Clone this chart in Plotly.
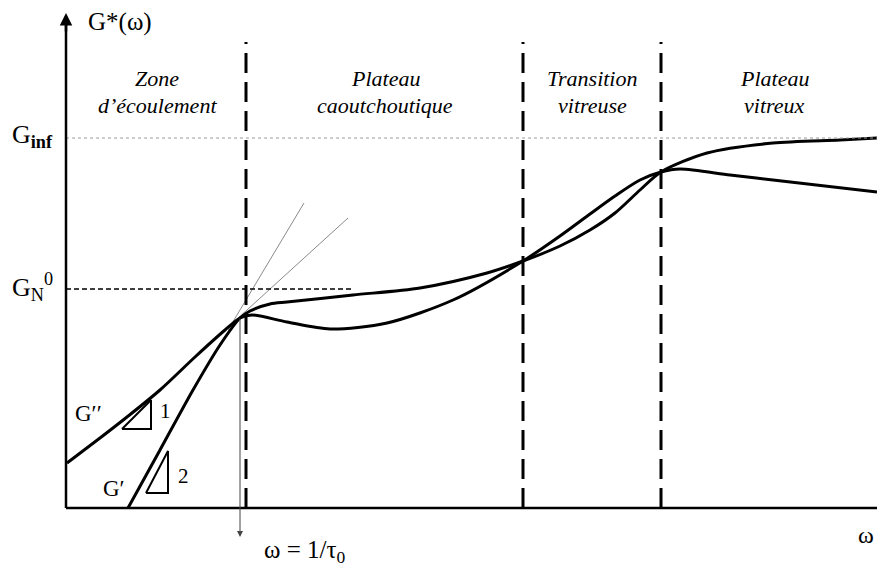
import plotly.graph_objects as go

# ---- data (schematic units: origin at axes corner, x = log(omega), y = log(G)) ----
gp_x = [62, 94, 127, 154, 174, 184, 204, 221, 287, 354, 421, 457, 494, 524, 549, 574, 595, 641, 707, 774, 811]
gp_y = [0, 58, 118, 163, 190, 197, 204, 206, 213, 220, 235, 247, 262, 278, 295, 318, 336, 355, 365, 368, 370]

gpp_x = [1, 34, 61, 94, 129, 159, 174, 186, 221, 264, 321, 387, 457, 494, 524, 549, 574, 595, 614, 664, 707, 811]
gpp_y = [45, 70, 91, 118, 151, 178, 190, 193, 186, 179, 185, 208, 247, 272, 294, 312, 328, 336, 339, 333, 328, 316]

zone_bounds = [180, 457, 595]
zone_top = 466
x_end = 811
y_top = 495
g_inf = 370
g_n0 = 219
g_n0_end = 287
tau0_x = 174
tau0_y = 191

tan1_x = [162, 238]
tan1_y = [178, 305]
tan2_x = [159, 282]
tan2_y = [178, 290]

tri1_x = [56, 85, 85, 56]
tri1_y = [79, 79, 108, 79]
tri2_x = [80, 102, 102, 80]
tri2_y = [15, 15, 57, 15]

zone_names = [["Zone", "d\u2019\u00e9coulement"], ["Plateau", "caoutchoutique"],
              ["Transition", "vitreuse"], ["Plateau", "vitreux"]]
zone_centers = [91, 319, 526, 708]

SERIF = "Liberation Serif"

fig = go.Figure()

# tangent lines (thin gray)
for tx, ty in [(tan1_x, tan1_y), (tan2_x, tan2_y)]:
    fig.add_trace(go.Scatter(x=tx, y=ty, mode="lines",
                             line=dict(color="#8a8a8a", width=1), hoverinfo="skip"))

# curves
fig.add_trace(go.Scatter(x=gp_x, y=gp_y, mode="lines", line=dict(color="black", width=3, shape="spline", smoothing=0.8),
                         hoverinfo="skip"))
fig.add_trace(go.Scatter(x=gpp_x, y=gpp_y, mode="lines", line=dict(color="black", width=3, shape="spline", smoothing=0.8),
                         hoverinfo="skip"))

# slope triangles
for tx, ty in [(tri1_x, tri1_y), (tri2_x, tri2_y)]:
    fig.add_trace(go.Scatter(x=tx, y=ty, mode="lines", line=dict(color="black", width=2),
                             hoverinfo="skip"))

shapes = []
# zone boundaries
for xb in zone_bounds:
    shapes.append(dict(type="line", xref="x", yref="y", x0=xb, x1=xb, y0=0, y1=zone_top,
                       line=dict(color="black", width=3, dash="20px,9px")))
# G_inf dotted line
shapes.append(dict(type="line", xref="x", yref="y", x0=0, x1=x_end, y0=g_inf, y1=g_inf,
                   line=dict(color="#9a9a9a", width=1, dash="dot")))
# G_N0 dashed line
shapes.append(dict(type="line", xref="x", yref="y", x0=0, x1=g_n0_end, y0=g_n0, y1=g_n0,
                   line=dict(color="black", width=1.3, dash="5px,3px")))
# x axis
shapes.append(dict(type="line", xref="x", yref="y", x0=0, x1=x_end + 5, y0=0, y1=0,
                   line=dict(color="black", width=2.5)))
# y axis
shapes.append(dict(type="line", xref="x", yref="y", x0=0, x1=0, y0=0, y1=y_top - 4,
                   line=dict(color="black", width=2.5)))

annotations = []
# y-axis arrow head
annotations.append(dict(x=0, y=y_top, ax=0, ay=y_top - 20, xref="x", yref="y", axref="x", ayref="y",
                        showarrow=True, arrowhead=2, arrowsize=1, arrowwidth=2.5, arrowcolor="black", text=""))
# tau0 arrow
annotations.append(dict(x=tau0_x, y=-29, ax=tau0_x, ay=tau0_y, xref="x", yref="y", axref="x", ayref="y",
                        showarrow=True, arrowhead=2, arrowsize=1.2, arrowwidth=1, arrowcolor="#444", text=""))

def txt(x, y, s, size=18, italic=False, xanchor="center"):
    annotations.append(dict(x=x, y=y, xref="x", yref="y", text=s, showarrow=False, xanchor=xanchor,
                            font=dict(family=SERIF, size=size, color="black",
                                      style="italic" if italic else "normal")))

for cx, (l1, l2) in zip(zone_centers, zone_names):
    txt(cx, 430, l1, size=22, italic=True)
    txt(cx, 403, l2, size=22, italic=True)

txt(54, 486, "G*(\u03c9)", size=25)
txt(-34, 372, "G<sub><b>inf</b></sub>", size=26)
txt(-34, 221, "G<sub>N</sub><sup>0</sup>", size=26)
txt(22, 95, "G\u2032\u2032", size=23)
txt(48, 20, "G\u2032", size=23)
txt(99, 97, "1", size=21)
txt(117, 32, "2", size=21)
txt(239, -43, "\u03c9 = 1/\u03c4<sub>0</sub>", size=25)
txt(810, -27, "\u03c9", size=24, xanchor="right")

fig.update_layout(
    width=877, height=567, autosize=False,
    margin=dict(l=0, r=0, t=0, b=0),
    paper_bgcolor="white", plot_bgcolor="white",
    showlegend=False,
    xaxis=dict(range=[-66, 811], visible=False, fixedrange=True),
    yaxis=dict(range=[-59, 508], visible=False, fixedrange=True),
    shapes=shapes, annotations=annotations,
)

fig.write_html("out.html", config={"displayModeBar": False},
               post_script="document.body.style.margin='0';document.body.style.overflow='hidden';")
